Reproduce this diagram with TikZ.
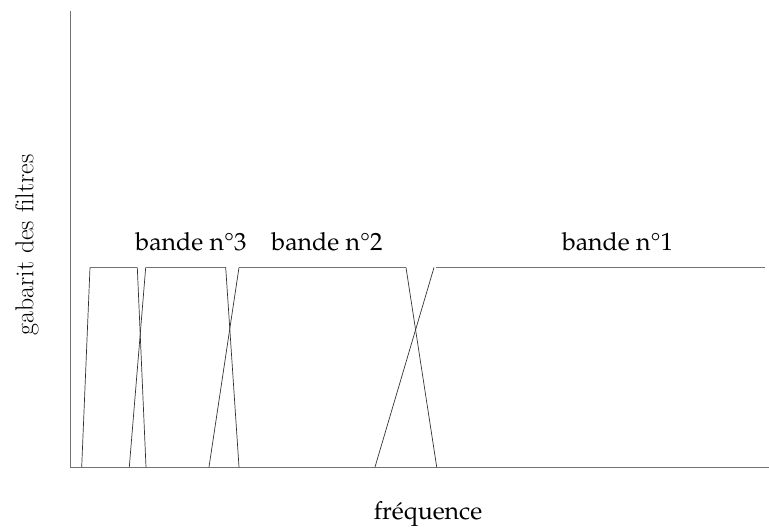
\documentclass[tikz,border=0pt]{standalone}
\usepackage{fontspec}
\newfontfamily\labelfont{TeX Gyre Pagella}
\begin{document}
\begin{tikzpicture}[x=1bp,y=-1bp,
  axis/.style={draw=black!55,line width=1.4bp},
  flat/.style={draw=black!55,line width=1.3bp},
  edge/.style={draw=black!80,line width=0.7bp},
  band/.style={font=\labelfont\fontsize{25}{25}\selectfont,inner sep=0pt,anchor=base},
  axlabel/.style={font=\fontsize{26}{26}\selectfont,inner sep=0pt}]
\useasboundingbox (0,0) rectangle (769,529);
% axes
\draw[axis] (70.5,11) -- (70.5,468);
\draw[axis] (69.5,467.5) -- (769,467.5);
% filter 3
\draw[edge] (81.7,467) -- (90,267.5);
\draw[flat] (90,267.5) -- (137.3,267.5);
\draw[edge] (137.3,267.5) -- (146,467);
% filter 2 (narrow)
\draw[edge] (129.3,467) -- (145.7,267.5);
\draw[flat] (145.7,267.5) -- (225.7,267.5);
\draw[edge] (225.7,267.5) -- (239,467);
% filter 2
\draw[edge] (209,467) -- (239,267.5);
\draw[flat] (239,267.5) -- (406,267.5);
\draw[edge] (406,267.5) -- (436.7,467);
% filter 1
\draw[edge] (375,467) -- (434,267.5);
\draw[flat] (436,267.5) -- (764.5,267.5);
% labels
\node[band] (b3) at (191,251) {bande n°3};
\node[band] (b2) at (327,251) {bande n°2};
\node[band] (b1) at (617.5,251) {bande n°1};
\node[band] (fx) at (428,519) {fréquence};
\node[axlabel,rotate=90] (fy) at (27,245) {gabarit des f\kern0pt iltres};
\end{tikzpicture}
\end{document}
